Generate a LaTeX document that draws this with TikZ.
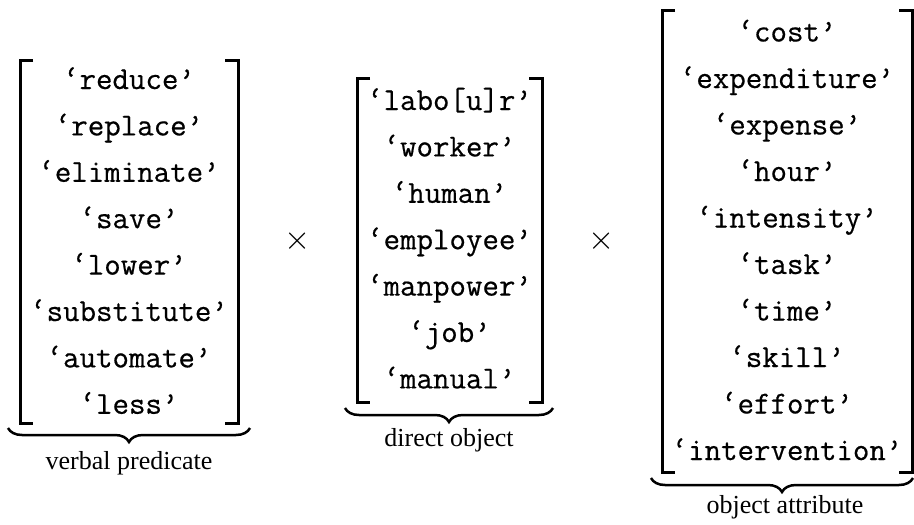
\documentclass[tikz,border=0pt]{standalone}
\usepackage{fontspec}
\newfontfamily\labfont{Liberation Serif}
\newfontfamily\itemfont[FakeBold=0.5]{Latin Modern Mono}
\usetikzlibrary{decorations.pathreplacing}
\begin{document}
\begin{tikzpicture}[x=1pt,y=-1pt,
  item/.style={font=\fontsize{32}{38}\selectfont\itemfont, anchor=base, inner sep=0pt},
  lab/.style={font=\fontsize{26}{30}\selectfont\labfont, inner sep=0pt},
  times/.style={font=\fontsize{38}{44}\selectfont, inner sep=0pt},
  brk/.style={line width=3pt},
  brc/.style={decorate, decoration={brace, mirror, amplitude=14pt}, line width=2.5pt}]
\useasboundingbox (0,0) rectangle (914,525);
% left column
\foreach \w [count=\i from 0] in {reduce,replace,eliminate,save,lower,substitute,automate,less}
  \node[item] (vp\i) at (129,{79+46.4*\i+10}) {‘\w’};
\draw[brk] (33,60) -- (20,60) -- (20,423) -- (33,423);
\draw[brk] (225,60) -- (238,60) -- (238,423) -- (225,423);
\draw[brc] (8,428) -- (250,428);
\node[lab] (vpl) at (129,463) {verbal predicate};
% times
\node[times] (x1) at (298,241) {\scalebox{1.35}{$\times$}};
% middle column
\foreach \w [count=\i from 0] in {{labo[u]r},worker,human,employee,manpower,job,manual}
  \node[item] (do\i) at (449.5,{100+46.4*\i+10}) {‘\w’};
\draw[brk] (370,78) -- (357,78) -- (357,402) -- (370,402);
\draw[brk] (529,78) -- (542,78) -- (542,402) -- (529,402);
\draw[brc] (345,408) -- (553,408);
\node[lab] (dol) at (449,440) {direct object};
\node[times] (x2) at (602,241) {\scalebox{1.35}{$\times$}};
% right column
\foreach \w [count=\i from 0] in {cost,expenditure,expense,hour,intensity,task,time,skill,effort,intervention}
  \node[item] (oa\i) at (787,{31.5+46.5*\i+10}) {‘\w’};
\draw[brk] (675,10) -- (662,10) -- (662,472) -- (675,472);
\draw[brk] (899,10) -- (912,10) -- (912,472) -- (899,472);
\draw[brc] (651,478) -- (913,478);
\node[lab] (oal) at (785,507) {object attribute};
\end{tikzpicture}
\end{document}
